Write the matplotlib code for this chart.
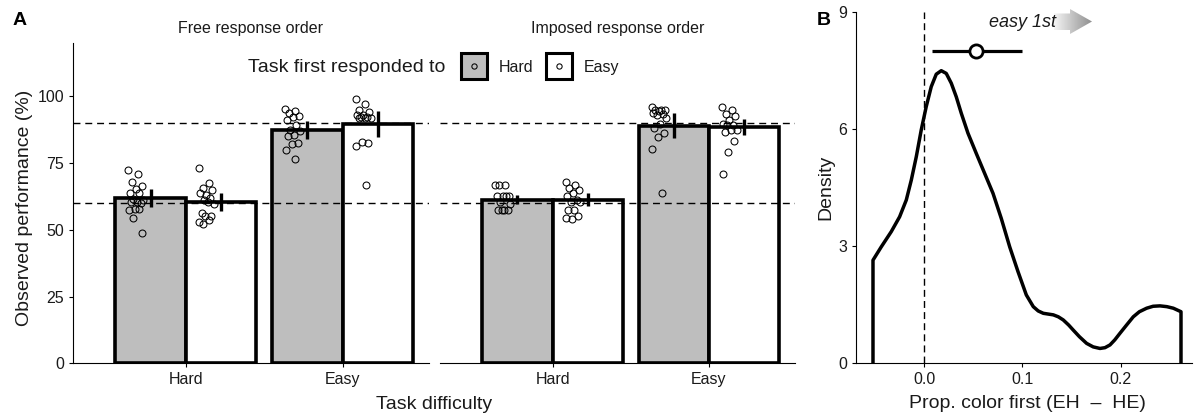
import numpy as np
import matplotlib
matplotlib.use('Agg')
import matplotlib.pyplot as plt
from matplotlib.patches import Rectangle, Polygon
from matplotlib.colors import LinearSegmentedColormap

plt.rcParams['font.family'] = ['Liberation Sans', 'DejaVu Sans']

# ---- data: panel A ----
facets = ['Free response order', 'Imposed response order']
difficulty = ['Hard', 'Easy']
first_task = ['Hard', 'Easy']

# mean performance (%) per difficulty, by task responded to first
free_mean_hard1st = [61.9, 87.5]
free_mean_easy1st = [60.4, 89.7]
imposed_mean_hard1st = [61.2, 89.0]
imposed_mean_easy1st = [61.3, 88.4]

free_err_hard1st = [3.4, 3.4]
free_err_easy1st = [3.3, 4.8]
imposed_err_hard1st = [1.7, 4.7]
imposed_err_easy1st = [2.5, 3.0]

# participants
free_hard_hard1st = [72.3, 70.9, 68.1, 66.3, 65.3, 63.8, 63.8, 61.5, 61.3, 60.6, 60.6, 60.0, 57.8, 57.5, 57.8, 54.4, 49.0]
free_hard_easy1st = [73.1, 67.5, 65.6, 65.0, 63.1, 63.8, 61.9, 61.3, 59.8, 60.6, 56.3, 55.3, 55.0, 53.1, 53.5, 52.1]
free_easy_hard1st = [95.3, 94.6, 93.8, 92.8, 92.3, 91.3, 89.4, 87.5, 86.9, 85.6, 85.0, 82.5, 82.3, 80.0, 76.5]
free_easy_easy1st = [99.0, 97.3, 95.0, 94.0, 93.1, 93.1, 92.3, 92.3, 91.9, 91.9, 91.9, 82.5, 82.8, 81.5, 66.9]
imposed_hard_hard1st = [66.9, 66.9, 66.9, 62.5, 62.5, 62.5, 62.5, 60.6, 59.8, 57.3, 57.3, 57.3, 57.3]
imposed_hard_easy1st = [67.8, 66.9, 65.6, 65.0, 63.8, 62.5, 61.3, 60.6, 60.3, 57.3, 57.3, 55.3, 54.0, 54.4]
imposed_easy_hard1st = [96.0, 95.0, 95.0, 95.0, 94.5, 93.8, 93.5, 93.1, 91.9, 89.8, 88.1, 86.3, 84.8, 80.3, 63.8]
imposed_easy_easy1st = [96.0, 95.0, 93.5, 92.5, 91.3, 89.8, 89.4, 89.4, 87.5, 87.5, 86.5, 83.4, 79.3, 70.9]

ref_levels = [60, 90]

# ---- data: panel B ----
kde_x = [-0.0522, -0.0438, -0.0336, -0.0251, -0.0183, -0.0132, -0.0081, -0.0031, 0.0020, 0.0071,
         0.0122, 0.0173, 0.0224, 0.0275, 0.0326, 0.0377, 0.0445, 0.0530, 0.0615, 0.0700,
         0.0784, 0.0870, 0.0954, 0.1039, 0.1110, 0.1160, 0.1212, 0.1314, 0.1365, 0.1415,
         0.1470, 0.1517, 0.1580, 0.1653, 0.1720, 0.1789, 0.1840, 0.1891, 0.1940, 0.1993,
         0.2060, 0.2128, 0.2190, 0.2264, 0.2330, 0.2400, 0.2470, 0.2536, 0.2614]
kde_y = [2.64, 2.98, 3.37, 3.75, 4.18, 4.69, 5.29, 5.97, 6.57, 7.08,
         7.40, 7.49, 7.42, 7.17, 6.82, 6.40, 5.89, 5.37, 4.86, 4.35,
         3.71, 2.98, 2.35, 1.75, 1.45, 1.34, 1.28, 1.24, 1.19, 1.11,
         0.98, 0.85, 0.68, 0.51, 0.42, 0.38, 0.40, 0.47, 0.60, 0.77,
         0.98, 1.19, 1.32, 1.41, 1.46, 1.47, 1.45, 1.41, 1.32]
summary_mean = 0.053
summary_ci = [0.0075, 0.100]
summary_y = 8

W, H = 1198, 417
fig = plt.figure(figsize=(W / 100, H / 100), dpi=100)

def box(x0, x1, y_top, y_bot):
    return [x0 / W, 1 - y_bot / H, (x1 - x0) / W, (y_bot - y_top) / H]

axL = fig.add_axes(box(73, 429, 43, 363.3))
axR = fig.add_axes(box(440, 795, 43, 363.3))
axB = fig.add_axes(box(856, 1192, 11.7, 363.3))

fills = ['#bebebe', 'white']
bw = 0.45
txtc = '#1a1a1a'

def jitter(n):
    return -0.092 + 0.05 * (((np.arange(n) * 0.618034) % 1) - 0.5) * 2

facet_data = [
    ([free_mean_hard1st, free_mean_easy1st], [free_err_hard1st, free_err_easy1st],
     [[free_hard_hard1st, free_hard_easy1st], [free_easy_hard1st, free_easy_easy1st]]),
    ([imposed_mean_hard1st, imposed_mean_easy1st], [imposed_err_hard1st, imposed_err_easy1st],
     [[imposed_hard_hard1st, imposed_hard_easy1st], [imposed_easy_hard1st, imposed_easy_easy1st]]),
]

for ax, (means, errs, pts) in zip([axL, axR], facet_data):
    for j in range(len(difficulty)):
        for k in range(len(first_task)):
            xc = j + 1 + (k - 0.5) * bw
            m, e = means[k][j], errs[k][j]
            ax.bar(xc, m, width=bw, color=fills[k], edgecolor='black', linewidth=2.6, zorder=1)
            p = np.array(pts[j][k])
            ax.plot(xc + jitter(len(p)), p, 'o', ms=5, mfc='none', mec='black', mew=0.75, zorder=3)
            ax.plot([xc, xc], [m - e, m + e], color='black', lw=2.4, solid_capstyle='butt', zorder=4)
    for r in ref_levels:
        ax.axhline(r, color='black', lw=1, ls=(0, (5, 3.5)), zorder=2)
    ax.set_xlim(0.28, 2.55)
    ax.set_ylim(0, 120)
    ax.set_xticks([1, 2])
    ax.set_xticklabels(difficulty)
    for s in ['top', 'right']:
        ax.spines[s].set_visible(False)
    ax.tick_params(direction='out', length=3, width=0.8, labelsize=11.5, colors='black',
                   labelcolor=txtc, pad=3.5)
    ax.set_facecolor('none')

axL.set_yticks([0, 25, 50, 75, 100])
axR.spines['left'].set_visible(False)
axR.set_yticks([])

# panel B
axB.plot(np.r_[kde_x[0], kde_x, kde_x[-1]], np.r_[0, kde_y, 0], color='black', lw=2.5,
         solid_joinstyle='round', zorder=3)
axB.axvline(0, color='black', lw=1, ls=(0, (5, 3)), zorder=2)
axB.plot(summary_ci, [summary_y, summary_y], color='black', lw=2.3, solid_capstyle='butt', zorder=4)
axB.plot(summary_mean, summary_y, 'o', ms=9.5, mfc='white', mec='black', mew=2, zorder=5)
axB.set_xlim(-0.0695, 0.2726)
axB.set_ylim(0, 9)
axB.set_yticks([0, 3, 6, 9])
axB.set_xticks([0, 0.1, 0.2])
axB.set_xticklabels(['0.0', '0.1', '0.2'])
for s in ['top', 'right']:
    axB.spines[s].set_visible(False)
axB.tick_params(direction='out', length=3, width=0.8, labelsize=11.5, labelcolor=txtc, pad=3.5)
axB.set_facecolor('none')

# overlay in pixel coordinates for titles, legend and annotations
ov = fig.add_axes([0, 0, 1, 1], zorder=10)
ov.patch.set_alpha(0)

# gradient arrow behind "easy 1st"
arrow = Polygon([(1054, 13.5), (1070, 13.5), (1070, 9), (1092, 21.5), (1070, 34), (1070, 30), (1054, 30)],
                closed=True, transform=ov.transData, fc='none', ec='none')
ov.add_patch(arrow)
grad = LinearSegmentedColormap.from_list('g', ['white', '#8f8f8f'])
im = ov.imshow(np.linspace(0, 1, 200)[None, :], cmap=grad, extent=(1050, 1092, 34, 9),
               aspect='auto', interpolation='bilinear')
im.set_clip_path(arrow)

ov.text(989, 27, 'easy 1st', style='italic', fontsize=13, color=txtc, va='baseline', ha='left')

ov.text(13, 25, 'A', fontweight='bold', fontsize=14, va='baseline', ha='left')
ov.text(817, 25, 'B', fontweight='bold', fontsize=14, va='baseline', ha='left')
ov.text(251, 33, facets[0], fontsize=11.5, color=txtc, ha='center', va='baseline')
ov.text(617.5, 33, facets[1], fontsize=11.5, color=txtc, ha='center', va='baseline')

# legend
ov.text(248, 72, 'Task first responded to', fontsize=14, color=txtc, ha='left', va='baseline')
key_x = [461, 546]
for kx, fc, lab in zip(key_x, fills, first_task):
    ov.add_patch(Rectangle((kx, 53), 26, 26, fc=fc, ec='black', lw=2.2))
    ov.plot(kx + 13, 66, 'o', ms=3.8, mfc='none', mec='black', mew=0.75)
    ov.text(kx + 38, 72, lab, fontsize=11.5, color=txtc, ha='left', va='baseline')

# axis titles
ov.text(29, 208, 'Observed performance (%)', fontsize=14, rotation=90, rotation_mode='anchor',
        ha='center', va='baseline', color=txtc)
ov.text(434, 409, 'Task difficulty', fontsize=14, ha='center', va='baseline', color=txtc)
ov.text(830, 187.5, 'Density', fontsize=14, rotation=90, rotation_mode='anchor',
        ha='center', va='baseline', color=txtc)
ov.text(1027, 408, 'Prop. color first (EH  \u2013  HE)', fontsize=14, ha='center', va='baseline', color=txtc)

ov.set_xlim(0, W)
ov.set_ylim(H, 0)
ov.axis('off')

fig.savefig('out.png', dpi=100)
